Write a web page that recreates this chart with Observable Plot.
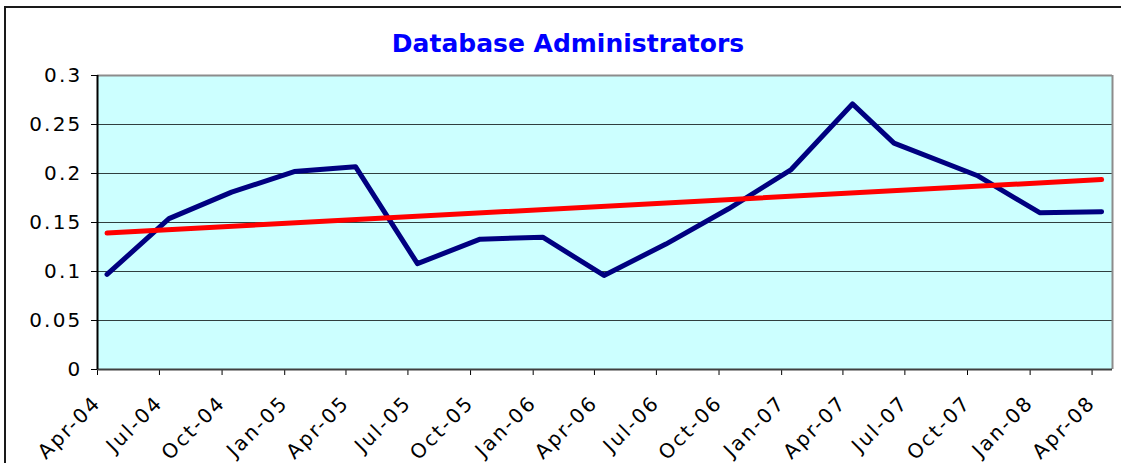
<!DOCTYPE html>
<html><head><meta charset="utf-8">
<script src="https://cdn.jsdelivr.net/npm/d3@7"></script>
<script src="https://cdn.jsdelivr.net/npm/@observablehq/plot@0.6"></script>
<style>
body{margin:0;background:#fff;}
#wrap{position:relative;width:1121px;height:463px;overflow:hidden;background:#fff;}
#frame{position:absolute;left:4px;top:6px;width:1300px;height:700px;border-left:2px solid #1a1a1a;border-top:2px solid #1a1a1a;}
#title{position:absolute;left:0;width:1136px;top:31px;text-align:center;font-family:"DejaVu Sans";font-weight:bold;font-size:25px;line-height:25px;color:#0000FF;}
#chart{position:absolute;left:0;top:60px;}
#chart svg text{letter-spacing:2.2px;font-size:20px;}
</style></head><body>
<div id="wrap"><div id="frame"></div><div id="title">Database Administrators</div><div id="chart"></div></div>
<script>
// Observation dates (quarterly, mid-month)
const dates = ["2004-04-15","2004-07-15","2004-10-15","2005-01-15","2005-04-15","2005-07-15","2005-10-15","2006-01-15","2006-04-15","2006-07-15","2006-10-15","2007-01-15","2007-04-15","2007-06-15","2007-10-15","2008-01-15","2008-04-15"];
// Series values
const values = [0.097,0.154,0.181,0.202,0.207,0.108,0.133,0.135,0.096,0.128,0.164,0.204,0.271,0.231,0.198,0.160,0.161];
// X tick labels
const tickLabels = ["Apr-04","Jul-04","Oct-04","Jan-05","Apr-05","Jul-05","Oct-05","Jan-06","Apr-06","Jul-06","Oct-06","Jan-07","Apr-07","Jul-07","Oct-07","Jan-08","Apr-08"];
// Y ticks
const yTicks = [0,0.05,0.1,0.15,0.2,0.25,0.3];
const gridValues = [0.05,0.1,0.15,0.2,0.25];
const xDomainStr = ["2004-04-01","2008-05-01"];

const parseDate = d3.utcParse("%Y-%m-%d");
const parseTick = d3.utcParse("%b-%y");
const fmtTick = d3.utcFormat("%b-%y");
const data = dates.map((d,i)=>({date: parseDate(d), value: values[i]}));
const tickDates = tickLabels.map(t=>parseTick(t));
const xDomain = xDomainStr.map(parseDate);

const chart = Plot.plot({
  width: 1121,
  height: 403,
  marginTop: 15,
  marginBottom: 94,
  marginLeft: 97,
  marginRight: 9,
  style: {fontFamily: "DejaVu Sans", fontSize: "20px", color: "#000", background: "transparent"},
  x: {type: "utc", domain: xDomain, ticks: tickDates, tickFormat: fmtTick, tickRotate: -45, tickSize: 6, tickPadding: 24, label: null},
  y: {domain: [0, 0.3], ticks: yTicks, tickFormat: d => String(d), tickSize: 6, tickPadding: 9, label: null},
  marks: [
    Plot.frame({fill: "#CCFFFF", stroke: "none"}),
    Plot.ruleY(gridValues, {stroke: "#2f3f3f", strokeWidth: 1}),
    Plot.ruleY([0.3], {stroke: "#8c8c8c", strokeWidth: 2}),
    Plot.ruleX([xDomain[1]], {stroke: "#8c8c8c", strokeWidth: 2}),
    Plot.ruleY([0], {stroke: "#404040", strokeWidth: 2}),
    Plot.ruleX([xDomain[0]], {stroke: "#000", strokeWidth: 2}),
    Plot.line(data, {x: "date", y: "value", stroke: "#000080", strokeWidth: 5, strokeLinejoin: "round", strokeLinecap: "round"}),
    Plot.linearRegressionY(data, {x: "date", y: "value", stroke: "#FF0000", strokeWidth: 5, ci: 0, strokeLinecap: "round"})
  ]
});
document.getElementById("chart").appendChild(chart);
</script>
</body></html>
